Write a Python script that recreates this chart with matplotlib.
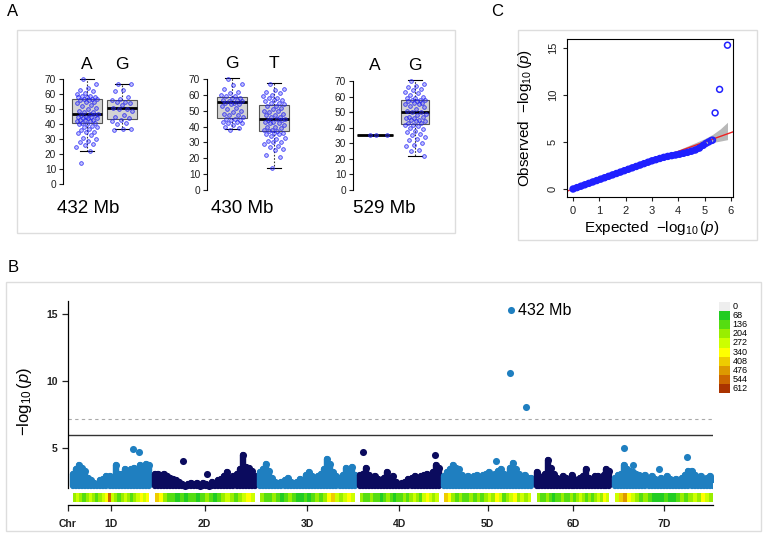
import matplotlib
matplotlib.use('Agg')
import matplotlib.pyplot as plt
import numpy as np
from matplotlib.patches import Rectangle

plt.rcParams['font.family'] = ['Liberation Sans', 'DejaVu Sans']
plt.rcParams['mathtext.fontset'] = 'custom'
plt.rcParams['mathtext.rm'] = 'Liberation Sans'
plt.rcParams['mathtext.it'] = 'Liberation Sans:italic'

# ---------------- data: panel A (allele boxplots) ----------------
a_snps = ['432 Mb', '430 Mb', '529 Mb']
a_alleles = [['A', 'G'], ['G', 'T'], ['A', 'G']]
# whisker low, q1, median, q3, whisker high
a_stats = [[(22, 41, 46.5, 56.5, 70), (37, 43.5, 50.5, 56, 67)],
           [(38.5, 45.5, 55.5, 58.5, 70.5), (14, 37, 45, 53.5, 67.5)],
           [(35.5, 35.5, 35.5, 35.5, 35.5), (22, 42.5, 50, 57.5, 70.5)]]
pts_432_A = [70, 67, 64, 63, 62, 61, 60, 59, 59, 58, 58, 58, 57, 57, 57, 56, 56, 55, 55, 54,
             53, 52, 51, 50, 49, 48, 48, 47, 47, 46, 46, 45, 45, 45, 44, 44, 44, 43, 43, 43,
             42, 42, 41, 41, 40, 40, 39, 38, 38, 37, 36, 35, 35, 34, 33, 31, 30, 29, 28, 27,
             26, 25, 22, 14]
pts_432_G = [67, 67, 63, 62, 58, 57, 56, 55, 55, 54, 53, 51, 50, 50, 49, 46, 45, 44, 43, 42,
             41, 40, 37, 37, 36]
pts_430_G = [70, 67, 66, 64, 62, 61, 60, 59, 59, 58, 58, 57, 57, 56, 56, 55, 55, 54, 54, 53,
             52, 51, 50, 49, 48, 47, 47, 46, 45, 45, 44, 44, 43, 43, 42, 42, 41, 40, 39, 38]
pts_430_T = [67, 64, 63, 62, 61, 60, 59, 58, 58, 57, 57, 56, 55, 55, 54, 53, 53, 52, 51, 50,
             50, 49, 48, 47, 47, 46, 46, 45, 45, 44, 44, 43, 43, 42, 42, 41, 40, 40, 39, 38,
             38, 37, 37, 36, 36, 35, 35, 34, 33, 32, 31, 30, 30, 29, 28, 27, 26, 25, 22, 21, 14]
pts_529_A = [35.5, 35.5, 35.5]
pts_529_G = [70, 68, 67, 66, 65, 64, 63, 62, 61, 60, 59, 59, 58, 58, 58, 57, 57, 56, 56, 55,
             55, 54, 53, 52, 51, 50, 50, 49, 48, 47, 47, 46, 46, 45, 45, 44, 44, 43, 43, 42,
             42, 41, 40, 39, 38, 37, 36, 35, 34, 33, 32, 30, 29, 28, 26, 25, 22]
a_points = [[pts_432_A, pts_432_G], [pts_430_G, pts_430_T], [pts_529_A, pts_529_G]]

# ---------------- data: panel B (Manhattan) ----------------
chr_names = ['1D', '2D', '3D', '4D', '5D', '6D', '7D']
chr_len = [495, 651, 615, 510, 566, 473, 638]  # Mb
# upper envelope of -log10(p) along each chromosome
m_top = [
    [3.3, 3.6, 3.9, 3.7, 3.5, 3.0, 2.8, 2.6, 2.5, 2.8, 2.9, 3.1, 3.1, 3.0, 3.9, 3.3, 3.3, 3.6,
     3.5, 3.6, 3.7, 3.5, 3.9, 3.8, 4.0, 3.9],
    [3.3, 3.3, 3.2, 3.3, 3.1, 3.0, 2.9, 2.8, 2.7, 2.5, 2.4, 2.5, 2.6, 2.5, 2.6, 2.4, 2.6, 2.5,
     2.4, 2.7, 2.6, 2.8, 2.9, 3.1, 3.4, 3.0, 3.1, 3.3, 3.6, 4.7, 3.8, 3.7, 3.5, 3.1],
    [3.4, 3.6, 4.0, 3.5, 3.0, 2.7, 2.6, 2.7, 2.8, 3.0, 2.7, 2.6, 2.7, 2.9, 2.8, 3.2, 3.4, 3.1,
     2.9, 3.1, 3.3, 3.6, 4.4, 4.0, 3.4, 3.1, 3.0, 3.2, 3.7, 3.3, 3.8, 3.2],
    [3.2, 3.3, 3.7, 3.2, 3.0, 3.1, 2.9, 2.8, 3.0, 3.4, 2.8, 3.1, 2.7, 2.5, 2.6, 2.7, 2.9, 3.0,
     3.1, 2.9, 3.1, 3.2, 3.3, 3.0, 3.4, 3.9, 3.7],
    [3.1, 3.4, 3.6, 3.9, 3.7, 3.6, 3.2, 3.0, 3.1, 3.0, 3.1, 3.2, 3.0, 3.2, 3.3, 3.4, 3.2, 3.3,
     3.5, 3.6, 3.3, 3.2, 3.7, 4.1, 3.6, 3.3, 3.1, 3.2, 3.0, 3.0],
    [3.4, 3.1, 2.9, 3.3, 4.3, 3.7, 3.3, 3.0, 2.9, 3.1, 3.0, 2.8, 3.2, 2.9, 2.8, 3.0, 3.1, 3.6,
     3.0, 2.9, 3.1, 3.1, 2.9, 3.2, 3.6, 3.5],
    [3.0, 3.2, 3.3, 3.9, 3.6, 3.5, 3.4, 3.3, 3.2, 3.1, 3.2, 3.0, 3.1, 2.9, 2.8, 3.0, 2.9, 3.1,
     2.9, 2.8, 2.9, 2.8, 3.0, 3.2, 3.5, 3.5, 3.2, 3.0, 3.1, 2.9, 3.0, 3.1, 2.9],
]
out_pos = [[390, 429], [182, 344], [], [19, 487], [338], [], [58, 117, 286, 468]]
out_val = [[5.15, 4.9], [4.25, 3.25], [], [4.9, 4.7], [4.25], [], [5.2, 3.95, 3.65, 4.5]]
sig_pos = [432, 430, 529]   # on 5D
sig_val = [15.3, 10.6, 8.1]
# SNP density per bin along each chromosome
dens = [
    [204, 272, 204, 136, 204, 272, 204, 136, 204, 272, 340, 544, 272, 204, 136, 204, 272, 204,
     136, 204, 272, 340, 272, 340],
    [408, 340, 204, 136, 136, 68, 136, 68, 136, 136, 68, 136, 204, 136, 68, 136, 204, 272,
     204, 136, 204, 272, 340, 272],
    [204, 136, 136, 204, 136, 68, 136, 204, 136, 68, 68, 136, 68, 136, 204, 136, 204, 340,
     408, 272, 204, 272, 340, 272],
    [204, 136, 136, 204, 136, 136, 68, 136, 204, 136, 68, 136, 136, 204, 136, 204, 272, 204,
     136, 272, 340, 272, 204, 272],
    [408, 340, 204, 136, 204, 136, 136, 204, 136, 204, 136, 204, 272, 204, 340, 272, 136, 204,
     272, 340, 204, 272, 204, 272],
    [204, 136, 136, 204, 136, 68, 136, 136, 204, 136, 136, 204, 136, 204, 272, 204, 136, 204,
     136, 204, 272, 204, 340, 272],
    [272, 408, 476, 340, 272, 204, 136, 204, 136, 68, 68, 68, 136, 68, 68, 136, 204, 136,
     204, 272, 204, 340, 272, 204],
]
dens_levels = [0, 68, 136, 204, 272, 340, 408, 476, 544, 612]
dens_cols = ['#eeeeee', '#22cc22', '#55dd11', '#99ee00', '#ccff00', '#ffff00',
             '#eecc00', '#dd9900', '#cc6600', '#aa3300']

# ---------------- data: panel C (QQ plot) ----------------
qq_exp = [0, 0.15, 0.3, 0.45, 0.6, 0.75, 0.9, 1.05, 1.2, 1.35, 1.5, 1.65, 1.8, 1.95, 2.1,
          2.25, 2.4, 2.55, 2.7, 2.85, 3.0, 3.15, 3.3, 3.45, 3.6, 3.75, 3.9, 4.05, 4.2, 4.35,
          4.5, 4.65, 4.8, 4.95, 5.05, 5.15, 5.25, 5.3, 5.4, 5.57, 5.87]
qq_obs = [0, 0.15, 0.3, 0.45, 0.6, 0.75, 0.9, 1.05, 1.2, 1.35, 1.5, 1.65, 1.8, 1.95, 2.1,
          2.25, 2.4, 2.55, 2.7, 2.85, 3.0, 3.12, 3.25, 3.37, 3.47, 3.55, 3.62, 3.7, 3.8, 3.9,
          4.02, 4.15, 4.35, 4.65, 4.85, 5.0, 5.15, 5.2, 8.1, 10.6, 15.3]
ci_x = [0, 3.5, 4.0, 4.5, 5.0, 5.3, 5.6, 5.87]
ci_hi = [0.05, 3.6, 4.15, 4.75, 5.35, 5.8, 6.4, 7.1]
ci_lo = [0, 3.45, 3.9, 4.3, 4.75, 4.95, 5.1, 5.25]

W, H = 767, 534


def box(x0, y0, x1, y1):
    # pixel box (top-left origin) -> figure fraction rect
    return [x0 / W, 1 - y1 / H, (x1 - x0) / W, (y1 - y0) / H]


fig = plt.figure(figsize=(W / 100, H / 100), dpi=100)
fig.patch.set_facecolor('white')

for (x0, y0, x1, y1) in [(17, 30, 455, 233), (518, 30, 757, 240), (6, 282, 761, 531)]:
    fig.add_artist(Rectangle((x0 / W, 1 - y1 / H), (x1 - x0) / W, (y1 - y0) / H,
                             transform=fig.transFigure, fill=False, ec='#dddddd', lw=1))

fig.text(13 / W, 1 - 11 / H, 'A', fontsize=12, ha='center', va='center')
fig.text(13 / W, 1 - 268 / H, 'B', fontsize=12, ha='center', va='center')
fig.text(497 / W, 1 - 11 / H, 'C', fontsize=12, ha='center', va='center')

# ---------------- panel A ----------------
a_axes_px = [(63, 74.8, 139.5, 188.2), (207, 74.6, 295, 194.4), (353, 76.6, 435, 194.4)]
a_xlim = [(0.314, 2.5), (0.405, 2.5), (0.45, 2.5)]
a_widths = [(0.83, 0.83), (0.71, 0.71), (0.9, 0.72)]
a_label_x = [88, 242, 384]

for k in range(3):
    ax = fig.add_axes(box(*a_axes_px[k]))
    stats = [dict(whislo=s[0], q1=s[1], med=s[2], q3=s[3], whishi=s[4]) for s in a_stats[k]]
    wd = a_widths[k]
    ax.bxp(stats, positions=[1, 2], widths=wd, patch_artist=True, showfliers=False,
           boxprops=dict(facecolor='#d3d3d3', edgecolor='#555555', lw=0.8),
           medianprops=dict(color='black', lw=2),
           whiskerprops=dict(color='#333333', lw=0.8, ls=(0, (1.5, 1.5))),
           capprops=dict(color='black', lw=0.8), capwidths=[w * 0.5 for w in wd])
    for j in range(2):
        vals = np.array(a_points[k][j], dtype=float)
        n = len(vals)
        jit = ((np.arange(n) * 0.618034 + 0.31) % 1 - 0.5) * wd[j] * 0.75
        ax.scatter(1 + j + jit, vals, s=7, facecolor=(0.3, 0.3, 1, 0.35),
                   edgecolor=(0.1, 0.1, 0.95, 0.8), lw=0.6, zorder=3)
        ax.text(1 + j, 1.095, a_alleles[k][j], transform=ax.get_xaxis_transform(),
                ha='center', va='center', fontsize=12.5)
    ax.set_xlim(*a_xlim[k])
    ax.set_ylim(-2.8, 72.8)
    for s in ['top', 'right', 'bottom']:
        ax.spines[s].set_visible(False)
    ax.spines['left'].set_bounds(0, 70)
    ax.spines['left'].set_linewidth(0.8)
    ax.set_xticks([])
    ax.set_yticks(range(0, 71, 10))
    ax.tick_params(axis='y', labelsize=7.3, length=3, width=0.8, pad=2, colors='#222222')
    ax.patch.set_alpha(0)
    fig.text(a_label_x[k] / W, 1 - 208 / H, a_snps[k], fontsize=13.5, ha='center', va='center')

# ---------------- panel B ----------------
gap = 35
starts = np.cumsum([0] + [l + gap for l in chr_len[:-1]])
end = starts[-1] + chr_len[-1]
mcols = ['#1f7fc0', '#0b0b5e']
dot = 26

ax = fig.add_axes(box(68, 298, 713, 505))
for i in range(7):
    c = mcols[i % 2]
    h = np.array(m_top[i]) - 0.2
    pos = starts[i] + np.linspace(0, chr_len[i], len(h))
    ax.vlines(pos, 2.2, h, colors=c, lw=4.6, capstyle='round', zorder=2)
    ax.scatter(pos, h, s=dot, color=c, lw=0, zorder=2)
    if out_pos[i]:
        ax.scatter(starts[i] + np.array(out_pos[i]), np.array(out_val[i]) - 0.2,
                   s=dot, color=c, lw=0, zorder=2)
    d = np.array(dens[i])
    edges = starts[i] + np.linspace(0, chr_len[i], len(d) + 1)
    bc = [dens_cols[int(round(v / 68))] for v in d]
    ax.bar(edges[:-1], 0.67, width=np.diff(edges), bottom=0.97, align='edge',
           color=bc, lw=0, zorder=1)

ax.scatter(starts[4] + np.array(sig_pos), sig_val, s=dot, color=mcols[0], lw=0, zorder=3)
ax.annotate('432 Mb', (starts[4] + sig_pos[0], sig_val[0]), xytext=(5, 0),
            textcoords='offset points', va='center', ha='left', fontsize=11.5)

ax.axhline(6, color='#333333', lw=1, zorder=1)
ax.axhline(7.2, color='#aaaaaa', lw=0.8, ls=(0, (3, 3)), zorder=1)

ax.set_xlim(-32, end)
ax.set_ylim(0.75, 16.2)
ax.spines['top'].set_visible(False)
ax.spines['right'].set_visible(False)
ax.spines['left'].set_bounds(2, 16)
ax.spines['left'].set_linewidth(0.9)
ax.spines['bottom'].set_linewidth(0.9)
ax.set_yticks([5, 10, 15])
ax.set_yticklabels(['5', '10', '15'], fontweight='bold')
centers = [s + l / 2 for s, l in zip(starts, chr_len)]
ax.set_xticks([-32] + centers)
ax.set_xticklabels(['Chr'] + chr_names, fontweight='bold')
ax.tick_params(labelsize=7.5, length=4, width=0.9, colors='#222222')
ax.tick_params(axis='x', pad=6)
ax.set_ylabel(r'$-\log_{10}(p)$', fontsize=12, labelpad=9)
ax.patch.set_alpha(0)

# density legend
lax = fig.add_axes(box(719, 302, 730, 393))
lax.barh(range(10), 1, height=1, color=dens_cols, lw=0)
lax.set_ylim(9.5, -0.5)
lax.set_xlim(0, 1)
lax.axis('off')
for i, lv in enumerate(dens_levels):
    lax.text(1.25, i, str(lv), fontsize=6.5, va='center', ha='left', transform=lax.transData)

# ---------------- panel C ----------------
ax = fig.add_axes(box(567, 39, 733, 197))
ax.fill_between(ci_x, ci_lo, ci_hi, color='#b8b8b8', lw=0, zorder=1)
ax.plot([-0.23, 6.08], [-0.23, 6.08], color='#ee2222', lw=1, zorder=2)
ax.plot(qq_exp[:34], qq_obs[:34], color='#2020ff', lw=4.4, solid_capstyle='round', zorder=3)
ax.scatter(qq_exp, qq_obs, s=18, facecolor='none', edgecolor='#2020ff', lw=1.1, zorder=4)
ax.set_xlim(-0.23, 6.08)
ax.set_ylim(-0.85, 15.96)
ax.set_xticks(range(0, 7))
ax.set_yticks([0, 5, 10, 15])
ax.tick_params(labelsize=8, length=3, width=0.8, colors='#222222')
for lab in ax.get_yticklabels():
    lab.set_rotation(90)
    lab.set_va('center')
for s in ax.spines.values():
    s.set_linewidth(0.8)
fig.text(652 / W, 1 - 228 / H, r'Expected  $-\log_{10}(p)$', fontsize=11, ha='center', va='center')
fig.text(525 / W, 1 - 118 / H, r'Observed  $-\log_{10}(p)$', fontsize=11, ha='center',
         va='center', rotation=90)

fig.savefig('out.png', dpi=100)
